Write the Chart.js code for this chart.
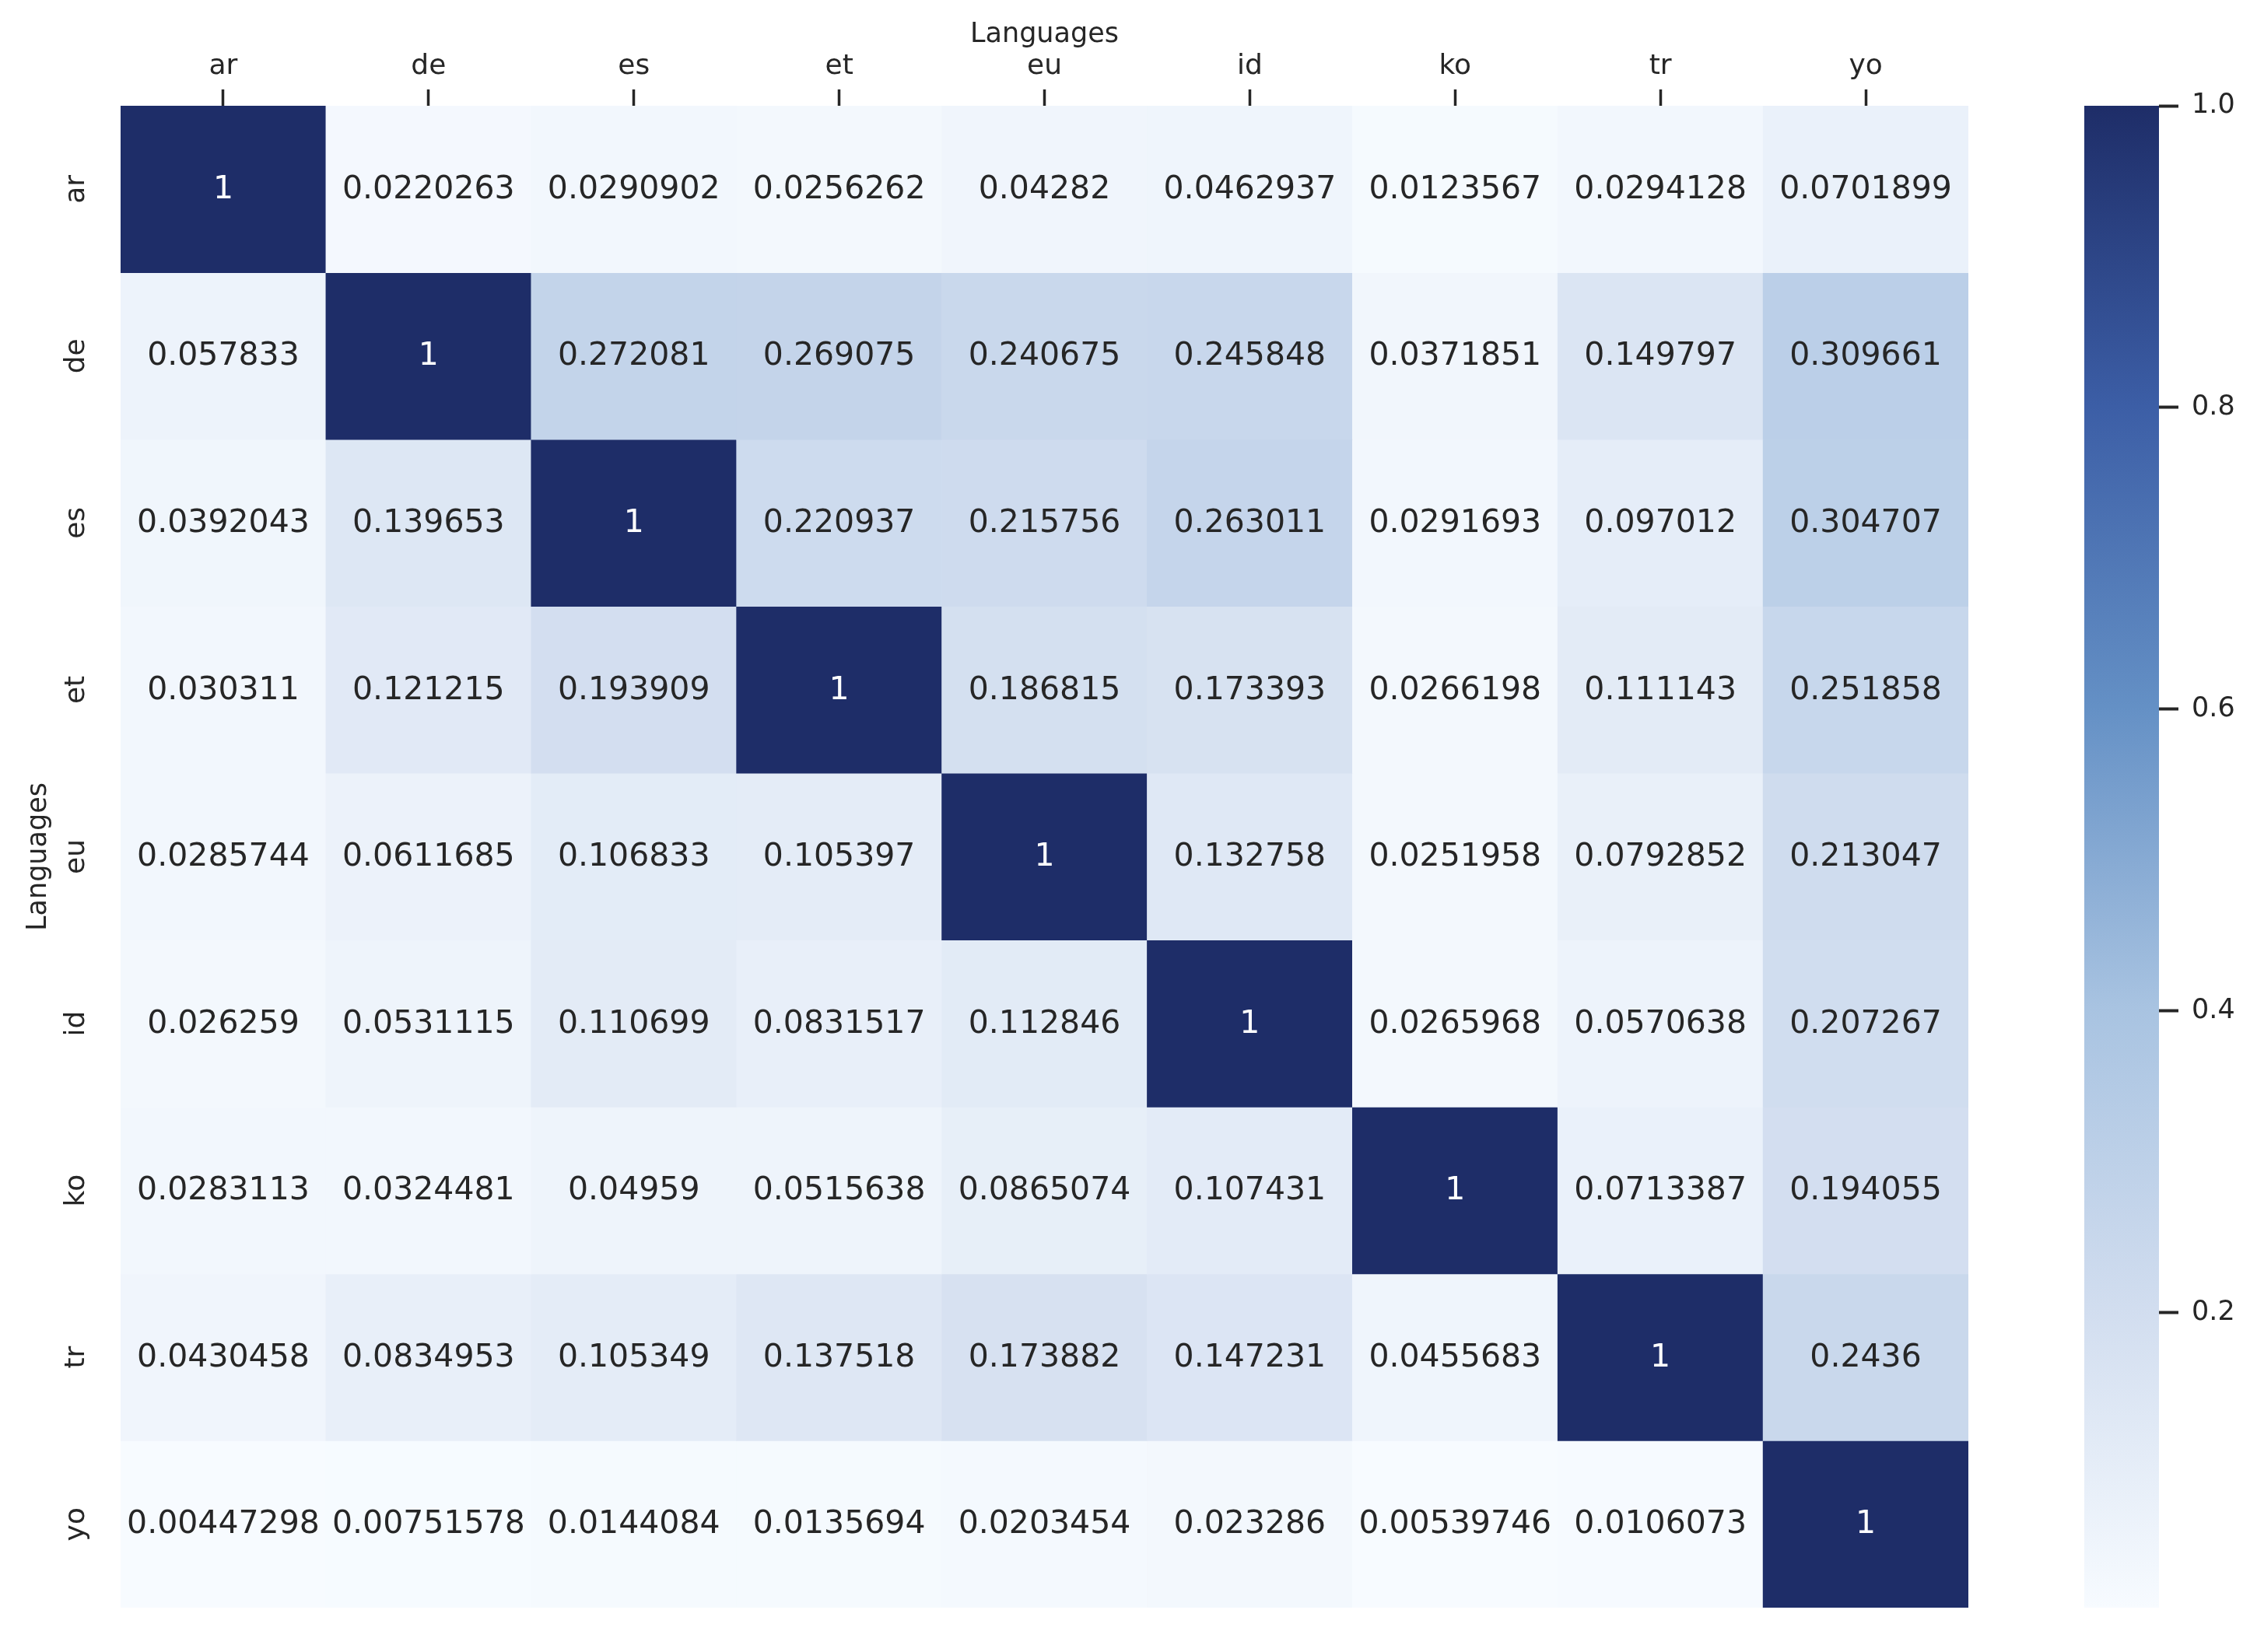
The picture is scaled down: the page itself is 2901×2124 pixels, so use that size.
<!DOCTYPE html>
<html>
<head>
<meta charset="utf-8">
<script src="https://cdn.jsdelivr.net/npm/chart.js@4.4.1/dist/chart.umd.min.js"></script>
<style>
  html, body { margin: 0; padding: 0; background: #fff; }
  body { width: 2901px; height: 2124px; position: relative; overflow: hidden; }
  #heat { position: absolute; left: 0; top: 0; }
  #bar { position: absolute; left: 2679px; top: 0; }
</style>
</head>
<body>
<canvas id="heat" width="2530" height="2067"></canvas>
<canvas id="bar" width="222" height="2124"></canvas>
<script>
(() => {
  "use strict";

  // Languages on both axes (columns left to right, rows top to bottom)
  const languages = ["ar", "de", "es", "et", "eu", "id", "ko", "tr", "yo"];

  // One row of the matrix per language
  const rowAr = [1, 0.0220263, 0.0290902, 0.0256262, 0.04282, 0.0462937, 0.0123567, 0.0294128, 0.0701899];
  const rowDe = [0.057833, 1, 0.272081, 0.269075, 0.240675, 0.245848, 0.0371851, 0.149797, 0.309661];
  const rowEs = [0.0392043, 0.139653, 1, 0.220937, 0.215756, 0.263011, 0.0291693, 0.097012, 0.304707];
  const rowEt = [0.030311, 0.121215, 0.193909, 1, 0.186815, 0.173393, 0.0266198, 0.111143, 0.251858];
  const rowEu = [0.0285744, 0.0611685, 0.106833, 0.105397, 1, 0.132758, 0.0251958, 0.0792852, 0.213047];
  const rowId = [0.026259, 0.0531115, 0.110699, 0.0831517, 0.112846, 1, 0.0265968, 0.0570638, 0.207267];
  const rowKo = [0.0283113, 0.0324481, 0.04959, 0.0515638, 0.0865074, 0.107431, 1, 0.0713387, 0.194055];
  const rowTr = [0.0430458, 0.0834953, 0.105349, 0.137518, 0.173882, 0.147231, 0.0455683, 1, 0.2436];
  const rowYo = [0.00447298, 0.00751578, 0.0144084, 0.0135694, 0.0203454, 0.023286, 0.00539746, 0.0106073, 1];

  // Colorbar tick values
  const colorbarTicks = [0.2, 0.4, 0.6, 0.8, 1.0];

  const matrix = [rowAr, rowDe, rowEs, rowEt, rowEu, rowId, rowKo, rowTr, rowYo];
  const vmin = Math.min(...matrix.flat());
  const vmax = Math.max(...matrix.flat());

  const FONT = "'DejaVu Sans', sans-serif";
  const TEXT = "#262626";

  // Colormap stops (fraction of range -> rgb)
  const cmapPos = [0, 0.2, 0.4, 0.6, 0.8, 1];
  const cmapRgb = [
    [247, 251, 255],
    [209, 221, 239],
    [168, 195, 225],
    [100, 144, 197],
    [60, 94, 166],
    [30, 45, 104],
  ];

  function colorAt(t) {
    t = Math.max(0, Math.min(1, t));
    let i = 0;
    while (i < cmapPos.length - 2 && t > cmapPos[i + 1]) i++;
    const f = (t - cmapPos[i]) / (cmapPos[i + 1] - cmapPos[i]);
    const a = cmapRgb[i], b = cmapRgb[i + 1];
    const c = a.map((v, k) => Math.round(v + (b[k] - v) * f));
    return `rgb(${c[0]},${c[1]},${c[2]})`;
  }

  function cellColor(v) {
    return colorAt((v - vmin) / (vmax - vmin));
  }

  // Writes the numbers in the cells and the rotated row labels
  const annotate = {
    id: "annotate",
    afterDatasetsDraw(chart) {
      const { ctx, scales } = chart;
      ctx.save();
      ctx.font = `41px ${FONT}`;
      ctx.textAlign = "center";
      ctx.textBaseline = "middle";
      matrix.forEach((row, r) => {
        const y = scales.y.getPixelForValue(r + 0.5);
        row.forEach((v, c) => {
          const x = scales.x.getPixelForValue(c);
          ctx.fillStyle = v > 0.6 ? "#ffffff" : TEXT;
          ctx.fillText(String(v), x, y + 1);
        });
      });
      // row labels, reading upwards
      ctx.font = `36px ${FONT}`;
      ctx.fillStyle = TEXT;
      ctx.textBaseline = "alphabetic";
      languages.forEach((lang, r) => {
        const y = scales.y.getPixelForValue(r + 0.5);
        ctx.save();
        ctx.translate(scales.y.right - 47, y);
        ctx.rotate(-Math.PI / 2);
        ctx.fillText(lang, 0, 0);
        ctx.restore();
      });
      ctx.restore();
    },
  };

  new Chart(document.getElementById("heat"), {
    type: "bar",
    data: {
      labels: languages,
      datasets: matrix.map((row, r) => ({
        label: languages[r],
        data: row.map(() => [r, r + 1]),
        backgroundColor: row.map(cellColor),
        borderWidth: 0,
        grouped: false,
        barPercentage: 1,
        categoryPercentage: 1,
      })),
    },
    options: {
      responsive: false,
      animation: false,
      devicePixelRatio: 1,
      layout: { padding: 0 },
      plugins: { legend: { display: false }, tooltip: { enabled: false } },
      scales: {
        x: {
          position: "top",
          offset: true,
          grid: {
            offset: false,
            drawOnChartArea: false,
            drawTicks: true,
            tickLength: 21,
            tickWidth: 3.5,
            tickColor: TEXT,
          },
          border: { display: false },
          ticks: {
            color: TEXT,
            font: { family: FONT, size: 36 },
            padding: 8,
            maxRotation: 0,
            autoSkip: false,
          },
          title: {
            display: true,
            text: "Languages",
            color: TEXT,
            font: { family: FONT, size: 35 },
            padding: { top: 24, bottom: 0 },
          },
          afterFit: (s) => { s.height = 136; },
        },
        y: {
          type: "linear",
          min: 0,
          max: languages.length,
          reverse: true,
          grid: { display: false },
          border: { display: false },
          ticks: { display: false },
          title: {
            display: true,
            text: "Languages",
            color: TEXT,
            font: { family: FONT, size: 35 },
            padding: { top: 29, bottom: 0 },
          },
          afterFit: (s) => { s.width = 155; },
        },
      },
    },
    plugins: [annotate],
  });

  // Colorbar: one floating bar from vmin to vmax with the colormap as gradient
  new Chart(document.getElementById("bar"), {
    type: "bar",
    data: {
      labels: [""],
      datasets: [{
        data: [[vmin, vmax]],
        borderWidth: 0,
        barPercentage: 1,
        categoryPercentage: 1,
        backgroundColor: (context) => {
          const chart = context.chart;
          if (!chart.chartArea) return cellColor(vmax);
          const y = chart.scales.y;
          const g = chart.ctx.createLinearGradient(0, y.getPixelForValue(vmin), 0, y.getPixelForValue(vmax));
          cmapPos.forEach((p, i) => {
            const c = cmapRgb[i];
            g.addColorStop(p, `rgb(${c[0]},${c[1]},${c[2]})`);
          });
          return g;
        },
      }],
    },
    options: {
      responsive: false,
      animation: false,
      devicePixelRatio: 1,
      layout: { padding: { top: 136, bottom: 57, left: 0, right: 0 } },
      plugins: { legend: { display: false }, tooltip: { enabled: false } },
      scales: {
        x: { display: false },
        y: {
          position: "right",
          min: vmin,
          max: vmax,
          grid: {
            drawOnChartArea: false,
            tickLength: 25,
            tickWidth: 4,
            tickColor: TEXT,
          },
          border: { display: false },
          ticks: {
            color: TEXT,
            font: { family: FONT, size: 35 },
            padding: 17,
            callback: (v) => Number(v).toFixed(1),
          },
          afterBuildTicks: (s) => { s.ticks = colorbarTicks.map((v) => ({ value: v })); },
          afterFit: (s) => { s.width = 126; },
        },
      },
    },
  });
})();
</script>
</body>
</html>
